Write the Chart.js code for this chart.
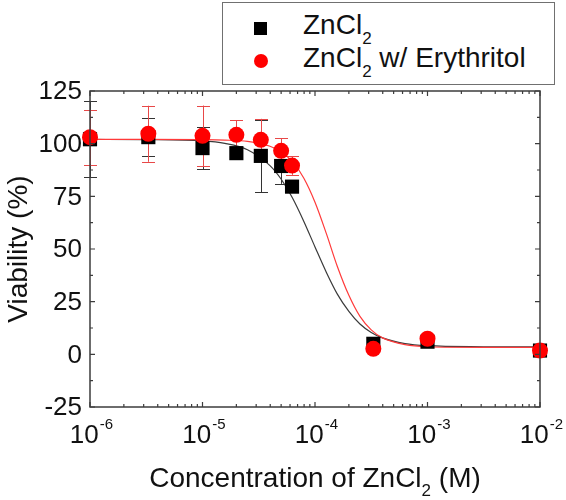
<!DOCTYPE html>
<html>
<head>
<meta charset="utf-8">
<script src="https://cdn.jsdelivr.net/npm/chart.js@4.4.1/dist/chart.umd.min.js"></script>
<style>
  html, body { margin: 0; padding: 0; background: #fff; }
  #wrap { position: relative; width: 566px; height: 500px; }
  #legend { position: absolute; left: 222px; top: 2px; width: 331px; height: 81px;
    border: 1.5px solid #707070; background: #fff;
    font-family: 'Liberation Sans', Arial, sans-serif; font-size: 28px; color: #111; }
  .row { position: absolute; left: 0; height: 32px; line-height: 32px; white-space: nowrap; }
  .mk { position: absolute; }
  .txt { position: absolute; left: 80px; top: 0; }
  sub { font-size: 17px; vertical-align: -10px; line-height: 0; }
</style>
</head>
<body>
<div id="wrap">
  <canvas id="c" width="566" height="500"></canvas>
  <div id="legend"></div>
</div>
<script>
// ---- data ----
const concentrations = [1e-6, 3.3e-6, 1e-5, 2e-5, 3.3e-5, 5e-5, 6.25e-5, 3.3e-4, 1e-3, 1e-2];
const znViability   = [102.1, 103.1, 97.9, 95.5, 94.2, 89.4, 79.6, 5.0, 6.0, 1.8];
const znError       = [18, 9, 10, 0, 17.2, 8.5, 0, 0, 0, 0];
const eryViability  = [103.1, 104.7, 103.7, 104.2, 101.8, 96.6, 89.6, 2.6, 7.4, 1.8];
const eryError      = [13, 13.3, 14.4, 7, 10, 6, 4.4, 0, 0, 0];

const fitConcentrations = [1e-6, 3.16e-6, 1e-5, 1.58e-5, 2.51e-5, 3.98e-5, 5.01e-5, 6.31e-5, 7.94e-5, 1e-4,
                           1.26e-4, 1.58e-4, 2e-4, 2.51e-4, 3.16e-4, 3.98e-4, 6.31e-4, 1e-3, 3.16e-3, 1e-2];
const znFit  = [102.0, 101.9, 101.3, 100.1, 97.1, 89.6, 83.1, 74.2, 63.2, 51.0,
                39.0, 28.6, 20.4, 14.4, 10.4, 7.8, 5.1, 4.1, 3.6, 3.5];
const eryFit = [102.0, 102.0, 101.9, 101.7, 101.1, 98.8, 96.1, 91.5, 83.7, 72.2,
                57.4, 41.7, 28.0, 18.0, 11.6, 7.8, 4.6, 3.6, 3.3, 3.3];

const seriesNames = ['ZnCl<sub>2</sub>', 'ZnCl<sub>2</sub> w/ Erythritol'];
const yTickValues = [-25, 0, 25, 50, 75, 100, 125];
const xTickExponents = [-6, -5, -4, -3, -2];
const xTitleParts = ['Concentration of ZnCl', '2', ' (M)'];
const yTitle = 'Viability (%)';

// ---- legend (HTML, for subscripts) ----
const legend = document.getElementById('legend');
legend.innerHTML =
  '<div class="row" style="top:6px;width:100%"><div class="mk" style="left:31px;top:13px;width:13px;height:13px;background:#000"></div><span class="txt">' + seriesNames[0] + '</span></div>' +
  '<div class="row" style="top:39px;width:100%"><div class="mk" style="left:31px;top:12px;width:14px;height:14px;border-radius:50%;background:#ff0000"></div><span class="txt">' + seriesNames[1] + '</span></div>';

const pts = (xs, ys) => xs.map((x, i) => ({ x: x, y: ys[i] }));
const FONT = "'Liberation Sans', Arial, sans-serif";

const decorPlugin = {
  id: 'decor',
  beforeDatasetsDraw(chart) {
    const { ctx, scales: { x, y } } = chart;
    const drawErr = (vals, errs, color) => {
      ctx.save();
      ctx.strokeStyle = color; ctx.lineWidth = 1;
      vals.forEach((v, i) => {
        if (!errs[i]) return;
        const px = Math.round(x.getPixelForValue(concentrations[i])) + 0.5;
        const top = y.getPixelForValue(v + errs[i]);
        const bot = y.getPixelForValue(v - errs[i]);
        ctx.beginPath();
        ctx.moveTo(px, top); ctx.lineTo(px, bot);
        ctx.moveTo(px - 6.5, Math.round(top) + 0.5); ctx.lineTo(px + 6.5, Math.round(top) + 0.5);
        ctx.moveTo(px - 6.5, Math.round(bot) + 0.5); ctx.lineTo(px + 6.5, Math.round(bot) + 0.5);
        ctx.stroke();
      });
      ctx.restore();
    };
    drawErr(znViability, znError, '#333333');
    drawErr(eryViability, eryError, '#e84848');
  },
  afterDraw(chart) {
    const { ctx, chartArea: a, scales: { x, y } } = chart;
    ctx.save();
    ctx.strokeStyle = '#3c3c3c';
    ctx.lineWidth = 1.5;
    ctx.strokeRect(a.left, a.top, a.right - a.left, a.bottom - a.top);
    ctx.lineWidth = 1.2;
    ctx.beginPath();
    // y ticks (major + minor), inward on left and right
    for (let i = 0; i < yTickValues.length; i++) {
      const v = yTickValues[i];
      const py = y.getPixelForValue(v);
      ctx.moveTo(a.left, py); ctx.lineTo(a.left + 5, py);
      ctx.moveTo(a.right, py); ctx.lineTo(a.right - 5, py);
      if (i < yTickValues.length - 1) {
        const pm = y.getPixelForValue((v + yTickValues[i + 1]) / 2);
        ctx.moveTo(a.left, pm); ctx.lineTo(a.left + 3, pm);
        ctx.moveTo(a.right, pm); ctx.lineTo(a.right - 3, pm);
      }
    }
    // x ticks (decades + minor 2..9)
    xTickExponents.forEach((e, k) => {
      const base = Math.pow(10, e);
      const px = x.getPixelForValue(base);
      ctx.moveTo(px, a.bottom); ctx.lineTo(px, a.bottom - 5);
      ctx.moveTo(px, a.top); ctx.lineTo(px, a.top + 5);
      if (k < xTickExponents.length - 1) {
        for (let m = 2; m <= 9; m++) {
          const pm = x.getPixelForValue(m * base);
          ctx.moveTo(pm, a.bottom); ctx.lineTo(pm, a.bottom - 3);
          ctx.moveTo(pm, a.top); ctx.lineTo(pm, a.top + 3);
        }
      }
    });
    ctx.stroke();

    ctx.fillStyle = '#111';
    // y tick labels
    ctx.font = '26px ' + FONT;
    ctx.textAlign = 'right'; ctx.textBaseline = 'middle';
    yTickValues.forEach(v => ctx.fillText(String(v), a.left - 8, y.getPixelForValue(v) + 1));
    // x tick labels 10^e
    ctx.textBaseline = 'alphabetic'; ctx.textAlign = 'left';
    xTickExponents.forEach(e => {
      const px = x.getPixelForValue(Math.pow(10, e));
      ctx.font = '26px ' + FONT;
      const w1 = ctx.measureText('10').width;
      ctx.font = '15px ' + FONT;
      const sup = String(e);
      const w2 = ctx.measureText(sup).width;
      const start = px - (w1 + w2) / 2 + 1;
      ctx.font = '26px ' + FONT;
      ctx.fillText('10', start, a.bottom + 36);
      ctx.font = '15px ' + FONT;
      ctx.fillText(sup, start + w1 + 1, a.bottom + 22);
    });
    // x title with subscript
    ctx.font = '28px ' + FONT;
    const t0 = ctx.measureText(xTitleParts[0]).width;
    const t2 = ctx.measureText(xTitleParts[2]).width;
    ctx.font = '17px ' + FONT;
    const t1 = ctx.measureText(xTitleParts[1]).width;
    const cx = (a.left + a.right) / 2;
    let sx = cx - (t0 + t1 + t2) / 2;
    ctx.font = '28px ' + FONT;
    ctx.fillText(xTitleParts[0], sx, 487);
    ctx.font = '17px ' + FONT;
    ctx.fillText(xTitleParts[1], sx + t0, 496);
    ctx.font = '28px ' + FONT;
    ctx.fillText(xTitleParts[2], sx + t0 + t1, 487);
    // y title
    ctx.translate(27, (a.top + a.bottom) / 2);
    ctx.rotate(-Math.PI / 2);
    ctx.textAlign = 'center';
    ctx.fillText(yTitle, 0, 0);
    ctx.restore();
  }
};

new Chart(document.getElementById('c'), {
  type: 'scatter',
  data: {
    datasets: [
      { label: 'ZnCl2 w/ Erythritol', data: pts(concentrations, eryViability), pointStyle: 'circle',
        pointRadius: 8, backgroundColor: '#ff0000', borderColor: '#ff0000', borderWidth: 0,
        showLine: false, clip: false, order: 0 },
      { label: 'ZnCl2', data: pts(concentrations, znViability), pointStyle: 'rect',
        pointRadius: 10, backgroundColor: '#000000', borderColor: '#000000', borderWidth: 0,
        showLine: false, clip: false, order: 1 },
      { label: 'fit erythritol', data: pts(fitConcentrations, eryFit), showLine: true, pointRadius: 0,
        borderColor: '#ff3a3a', borderWidth: 1.2, cubicInterpolationMode: 'monotone', order: 2 },
      { label: 'fit ZnCl2', data: pts(fitConcentrations, znFit), showLine: true, pointRadius: 0,
        borderColor: '#3a3a3a', borderWidth: 1.2, cubicInterpolationMode: 'monotone', order: 3 }
    ]
  },
  options: {
    responsive: false, animation: false, devicePixelRatio: 1,
    layout: { padding: { top: 91, right: 26, left: 0, bottom: 0 } },
    plugins: { legend: { display: false }, tooltip: { enabled: false } },
    scales: {
      x: { type: 'logarithmic', min: 1e-6, max: 1e-2, grid: { display: false }, border: { display: false },
           ticks: { display: false }, afterFit(s) { s.height = 93; } },
      y: { min: -25, max: 125, grid: { display: false }, border: { display: false },
           ticks: { display: false }, afterFit(s) { s.width = 90; } }
    }
  },
  plugins: [decorPlugin]
});
</script>
</body>
</html>
